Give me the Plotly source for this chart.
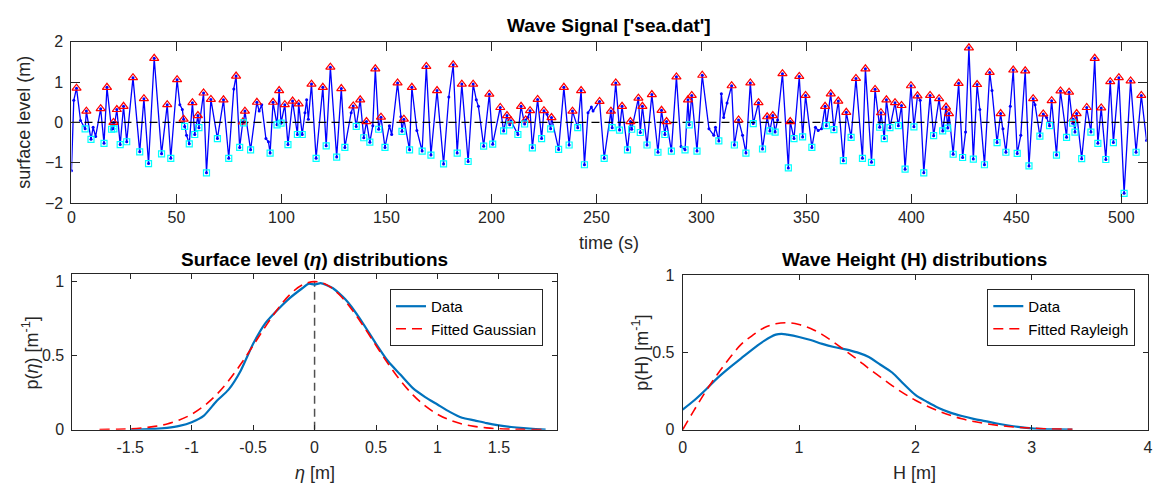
import numpy as np
import plotly.graph_objects as go

# ---------------- data: wave signal (time in s, surface level in m) ----------------
crest_t = [2.4, 7.1, 13.9, 16.9, 20.0, 21.6, 24.8, 29.3, 34.5, 39.4,
           45.6, 50.3, 53.4, 57.6, 60.2, 62.9, 66.4, 72.4, 78.4, 81.6,
           82.6, 88.3, 96.0, 98.9, 101.6, 105.3, 108.2, 114.3, 119.7, 123.3,
           128.5, 134.2, 137.5, 140.5, 144.7, 147.4, 155.3, 158.3, 162.1, 169.0,
           174.1, 181.8, 185.9, 191.3, 199.0, 204.2, 207.4, 209.3, 214.1, 216.3,
           218.4, 222.0, 225.0, 228.6, 234.5, 238.6, 242.7, 251.5, 256.9, 259.2,
           262.2, 266.2, 270.0, 271.9, 276.4, 281.0, 283.4, 288.1, 293.6, 295.4,
           300.4, 314.4, 317.7, 323.3, 327.2, 331.3, 334.0, 338.6, 342.3, 346.6,
           349.6, 358.9, 361.6, 365.2, 369.0, 373.6, 378.1, 382.7, 385.5, 388.1,
           392.2, 395.3, 399.8, 402.9, 408.9, 413.2, 416.5, 417.9, 422.5, 427.4,
           431.3, 437.3, 442.5, 448.5, 454.2, 458.0, 462.8, 466.8, 471.0, 475.1,
           477.1, 478.7, 483.5, 487.3, 490.4, 494.7, 498.8, 504.4, 509.5]
crest_eta = [0.85, 0.28, 0.34, 0.87, 0.0, 0.32, 0.40, 1.11, 0.59, 1.59,
             0.44, 1.06, 0.08, 0.49, 0.17, 0.73, 0.57, 0.56, 1.15, 0.01,
             0.28, 0.50, 0.50, 0.79, 0.44, 0.53, 0.46, 0.95, 0.87, 1.37,
             0.84, 0.41, 0.56, 0.02, 1.33, 0.13, 0.98, 0.08, 0.87, 1.39,
             0.79, 1.43, 0.95, 0.95, 0.70, 0.37, 0.17, 0.04, 0.40, 0.06,
             0.29, 0.57, 0.29, 0.12, 0.87, 0.28, 0.79, 0.52, 0.28, 0.98,
             0.40, 0.02, 0.60, 0.40, 0.69, 0.30, 0.02, 1.13, 0.56, 0.67,
             1.17, 0.91, 0.06, 0.98, 0.49, 0.14, 0.17, 1.21, 0.02, 1.14,
             0.67, 0.40, 0.71, 0.53, 0.25, 1.09, 1.33, 0.82, 0.24, 0.56,
             0.49, 0.42, 0.91, 0.66, 0.67, 0.59, 0.38, 0.22, 0.97, 1.85,
             0.94, 1.24, 0.22, 1.30, 1.28, 0.59, 0.21, 0.54, 0.78, 0.75,
             0.08, 0.22, 0.37, 1.59, 0.36, 1.01, 1.11, 1.03, 0.67]

trough_t = [6.5, 9.3, 15.5, 19.1, 20.2, 23.2, 26.3, 32.5, 36.7, 42.9,
            47.3, 53.9, 56.1, 58.7, 60.7, 64.3, 69.5, 74.9, 80.1, 81.9,
            85.3, 94.6, 97.9, 99.8, 103.1, 107.6, 109.9, 116.5, 121.3, 126.3,
            130.2, 135.6, 139.2, 142.1, 146.3, 149.3, 157.4, 161.0, 167.0, 171.2,
            177.2, 183.7, 188.9, 196.3, 200.6, 205.8, 208.7, 212.6, 215.8, 219.5,
            223.9, 228.2, 232.0, 237.0, 241.1, 244.3, 253.7, 257.5, 261.0, 264.8,
            266.8, 270.9, 274.1, 279.3, 282.6, 285.7, 292.2, 294.2, 297.9, 308.3,
            315.7, 321.2, 324.7, 329.1, 332.6, 335.1, 341.4, 344.1, 348.2, 352.6,
            359.5, 363.1, 367.6, 371.3, 376.7, 381.0, 384.9, 387.1, 389.8, 393.8,
            397.0, 401.2, 405.9, 410.6, 414.9, 417.3, 419.9, 424.4, 429.5, 434.8,
            440.8, 445.0, 450.4, 456.0, 461.2, 465.8, 469.1, 473.9, 476.8, 477.9,
            481.1, 485.5, 488.8, 492.6, 496.2, 501.3, 507.0]
trough_eta = [-0.16, -0.42, -0.52, -0.17, -0.16, -0.55, -0.48, -0.73, -1.02, -0.78,
              -0.89, -0.10, -0.53, -0.30, -0.13, -1.25, -0.40, -0.89, -0.62, -0.01,
              -0.68, -0.76, -0.06, -0.02, -0.55, -0.30, -0.30, -0.89, -0.58, -0.86,
              -0.62, -0.10, -0.38, -0.49, -0.17, -0.62, -0.22, -0.68, -0.71, -0.81,
              -1.03, -0.76, -0.97, -0.59, -0.54, -0.21, -0.06, -0.30, -0.04, -0.63,
              -0.40, -0.16, -0.67, -0.56, -0.13, -1.05, -0.89, -0.13, -0.19, -0.68,
              -0.17, -0.25, -0.56, -0.74, -0.30, -0.71, -0.68, -0.06, -0.71, -0.46,
              -0.56, -0.76, -0.03, -0.66, -0.21, -0.24, -1.13, -0.40, -0.36, -0.62,
              -0.08, -0.18, -0.95, -0.37, -0.89, -0.99, -0.12, -0.40, -0.13, -0.08,
              -1.16, -0.11, -1.25, -0.33, -0.21, -0.14, -0.79, -0.87, -0.91, -1.05,
              -0.50, -0.74, -0.77, -1.08, -0.34, -0.08, -0.81, -0.37, -0.02, -0.24,
              -0.90, -0.24, -0.52, -0.92, -0.50, -1.76, -0.74]

# other (unmarked) samples of the signal
mid_t = [0.0, 1.1, 4.3, 10.3, 11.5, 51.6, 52.8, 54.8, 77.3, 89.4,
         90.6, 92.6, 93.8, 111.2, 112.0, 112.8, 133.2, 143.5, 151.4, 152.5,
         156.9, 164.5, 179.7, 192.8, 193.8, 217.3, 226.5, 246.0, 247.6, 248.4,
         290.3, 303.6, 305.9, 306.7, 309.5, 310.6, 312.2, 319.6, 336.3, 354.3,
         355.6, 357.2, 404.2, 425.8, 432.6, 438.4, 443.6, 447.1, 452.1, 458.9,
         464.4, 512.0]
mid_eta = [-1.20, 0.55, 0.05, -0.12, -0.35, 0.44, 0.32, -0.32, 0.83, 0.28,
           0.44, -0.40, -0.48, 0.24, 0.56, 0.08, 0.24, -0.08, -0.08, -0.30,
           0.14, -0.20, 0.63, 0.56, 0.40, 0.12, 0.20, 0.24, 0.38, 0.28,
           -0.60, -0.16, -0.32, -0.12, 0.71, 0.12, 0.48, -0.32, 0.06, -0.12,
           -0.20, -0.16, 0.55, -0.24, 0.32, 0.79, -0.16, 0.40, -0.32, 0.44,
           0.12, -0.45]

# ---------------- data: surface level distribution ----------------
eta_data = [-1.5, -1.4, -1.3, -1.2, -1.1, -1.0, -0.9, -0.8, -0.7, -0.6,
            -0.5, -0.4, -0.3, -0.2, -0.1, -0.05, 0.0, 0.05, 0.1, 0.15,
            0.2, 0.25, 0.3, 0.4, 0.5, 0.6, 0.7, 0.8, 0.9, 1.0,
            1.1, 1.2, 1.3, 1.4, 1.5, 1.6, 1.7, 1.8, 1.88]
p_eta_data = [0.0, 0.002, 0.005, 0.012, 0.025, 0.05, 0.095, 0.19, 0.27, 0.40,
              0.58, 0.72, 0.81, 0.89, 0.955, 0.985, 0.98, 0.99, 0.975, 0.955,
              0.92, 0.88, 0.83, 0.71, 0.58, 0.46, 0.37, 0.28, 0.22, 0.17,
              0.12, 0.08, 0.063, 0.044, 0.029, 0.018, 0.01, 0.004, 0.0]
eta_fit = [-1.75, -1.6, -1.5, -1.4, -1.3, -1.2, -1.1, -1.0, -0.9, -0.8,
           -0.7, -0.6, -0.5, -0.4, -0.3, -0.2, -0.1, 0.0, 0.1, 0.2,
           0.3, 0.4, 0.5, 0.6, 0.7, 0.8, 0.9, 1.0, 1.1, 1.2,
           1.3, 1.4, 1.5, 1.6, 1.7, 1.85]
p_eta_fit = [0.001, 0.003, 0.006, 0.012, 0.022, 0.038, 0.065, 0.104, 0.16, 0.235,
             0.33, 0.443, 0.568, 0.696, 0.815, 0.913, 0.978, 1.0, 0.978, 0.913,
             0.815, 0.696, 0.568, 0.443, 0.33, 0.235, 0.16, 0.104, 0.065, 0.038,
             0.022, 0.012, 0.006, 0.003, 0.0015, 0.0005]

# ---------------- data: wave height distribution ----------------
h_data = [0.0, 0.1, 0.2, 0.3, 0.4, 0.5, 0.6, 0.7, 0.8, 0.85,
          0.9, 1.0, 1.1, 1.2, 1.3, 1.4, 1.5, 1.6, 1.7, 1.8,
          1.9, 2.0, 2.1, 2.2, 2.3, 2.4, 2.5, 2.6, 2.7, 2.8,
          2.9, 3.0, 3.1, 3.2, 3.35]
p_h_data = [0.13, 0.19, 0.26, 0.335, 0.40, 0.46, 0.52, 0.575, 0.615, 0.62,
            0.615, 0.60, 0.58, 0.555, 0.535, 0.52, 0.50, 0.47, 0.42, 0.37,
            0.295, 0.225, 0.18, 0.14, 0.11, 0.088, 0.07, 0.055, 0.04, 0.027,
            0.016, 0.008, 0.004, 0.002, 0.0]
h_fit = [0.0, 0.1, 0.2, 0.3, 0.4, 0.5, 0.6, 0.7, 0.8, 0.9,
         1.0, 1.1, 1.2, 1.3, 1.4, 1.5, 1.6, 1.7, 1.8, 1.9,
         2.0, 2.2, 2.4, 2.6, 2.8, 3.0, 3.2, 3.35]
p_h_fit = [0.0, 0.128, 0.25, 0.36, 0.46, 0.55, 0.61, 0.66, 0.685, 0.692,
           0.68, 0.655, 0.615, 0.565, 0.51, 0.455, 0.395, 0.34, 0.285, 0.235,
           0.19, 0.12, 0.07, 0.04, 0.02, 0.01, 0.004, 0.002]

x_ticks_top = [0, 50, 100, 150, 200, 250, 300, 350, 400, 450, 500]
y_ticks_top = [-2, -1, 0, 1, 2]
x_ticks_eta = [-1.5, -1, -0.5, 0, 0.5, 1, 1.5]
x_ticks_h = [0, 1, 2, 3, 4]
y_ticks_p = [0, 0.5, 1]

# ---------------- figure ----------------
W, H = 1160, 493
FONT = "Liberation Sans, Arial, Helvetica, sans-serif"
AX = "#262626"


def fx(p):
    return p / W


def fy(p):
    return 1 - p / H


sig_t = np.array(crest_t + trough_t + mid_t)
sig_eta = np.array(crest_eta + trough_eta + mid_eta)
order = np.argsort(sig_t, kind="stable")

fig = go.Figure()

# top panel
fig.add_trace(go.Scatter(x=sig_t[order], y=sig_eta[order], mode="lines+markers",
                         line=dict(color="#0000FF", width=1.3),
                         marker=dict(size=3, color="#0000FF"),
                         xaxis="x", yaxis="y", showlegend=False))
fig.add_trace(go.Scatter(x=[0, 512], y=[0, 0], mode="lines",
                         line=dict(color="black", width=1.2, dash="8px,5px"),
                         xaxis="x", yaxis="y", showlegend=False))
fig.add_trace(go.Scatter(x=crest_t, y=crest_eta, mode="markers",
                         marker=dict(symbol="triangle-up-open", size=8, color="#FF0000",
                                     line=dict(width=1.2)),
                         xaxis="x", yaxis="y", showlegend=False))
fig.add_trace(go.Scatter(x=trough_t, y=trough_eta, mode="markers",
                         marker=dict(symbol="square-open", size=6, color="#00FFFF",
                                     line=dict(width=1.2)),
                         xaxis="x", yaxis="y", showlegend=False))

# bottom-left panel
fig.add_trace(go.Scatter(x=[0, 0], y=[0, 1.0], mode="lines",
                         line=dict(color="#505050", width=1.5, dash="8px,5px"),
                         xaxis="x2", yaxis="y2", showlegend=False))
fig.add_trace(go.Scatter(x=eta_data, y=p_eta_data, mode="lines", name="Data",
                         line=dict(color="#0072BD", width=2.2, shape="spline", smoothing=0.6),
                         xaxis="x2", yaxis="y2", legend="legend"))
fig.add_trace(go.Scatter(x=eta_fit, y=p_eta_fit, mode="lines", name="Fitted Gaussian",
                         line=dict(color="#FF0000", width=1.6, dash="10px,6px", shape="spline"),
                         xaxis="x2", yaxis="y2", legend="legend"))

# bottom-right panel
fig.add_trace(go.Scatter(x=h_data, y=p_h_data, mode="lines", name="Data",
                         line=dict(color="#0072BD", width=2.2, shape="spline"),
                         xaxis="x3", yaxis="y3", legend="legend2"))
fig.add_trace(go.Scatter(x=h_fit, y=p_h_fit, mode="lines", name="Fitted Rayleigh",
                         line=dict(color="#FF0000", width=1.6, dash="10px,6px", shape="spline"),
                         xaxis="x3", yaxis="y3", legend="legend2"))

axis_common = dict(showline=True, linecolor=AX, linewidth=1, mirror="ticks",
                   ticks="inside", tickcolor=AX, tickwidth=1,
                   tickfont=dict(family=FONT, size=16, color=AX),
                   showgrid=False, zeroline=False, fixedrange=True)

fig.update_layout(
    width=W, height=H,
    margin=dict(l=0, r=0, t=0, b=0),
    paper_bgcolor="white", plot_bgcolor="white",
    font=dict(family=FONT, color=AX),
    xaxis=dict(domain=[fx(68), fx(1151.5)], range=[0, 512], tickvals=x_ticks_top,
               anchor="y", ticklen=9, **axis_common),
    yaxis=dict(domain=[fy(202), fy(35)], range=[-2, 2], tickvals=y_ticks_top,
               anchor="x", ticklen=9, ticklabelstandoff=4, **axis_common),
    xaxis2=dict(domain=[fx(69), fx(557)], range=[-1.97, 1.97], tickvals=x_ticks_eta,
                ticktext=["-1.5", "-1", "-0.5", "0", "0.5", "1", "1.5"],
                anchor="y2", ticklen=5, ticklabelstandoff=3, **axis_common),
    yaxis2=dict(domain=[fy(436.7), fy(276)], range=[0, 1.048], tickvals=y_ticks_p,
                ticktext=["0", "0.5", "1"],
                anchor="x2", ticklen=5, ticklabelstandoff=4, **axis_common),
    xaxis3=dict(domain=[fx(684), fx(1153)], range=[0, 4], tickvals=x_ticks_h,
                ticktext=["0", "1", "2", "3", "4"],
                anchor="y3", ticklen=5, ticklabelstandoff=3, **axis_common),
    yaxis3=dict(domain=[fy(436.7), fy(276.7)], range=[0, 1], tickvals=y_ticks_p,
                ticktext=["0", "0.5", "1"],
                anchor="x3", ticklen=5, ticklabelstandoff=4, **axis_common),
    legend=dict(x=fx(389), y=fy(291), xanchor="left", yanchor="top",
                bordercolor=AX, borderwidth=1, bgcolor="white",
                font=dict(family=FONT, size=15, color="black"),
                itemwidth=30, tracegroupgap=0),
    legend2=dict(x=fx(991), y=fy(291), xanchor="left", yanchor="top",
                 bordercolor=AX, borderwidth=1, bgcolor="white",
                 font=dict(family=FONT, size=15, color="black"),
                 itemwidth=30, tracegroupgap=0),
)

ann = [
    dict(text="<b>Wave Signal ['sea.dat']</b>", x=fx(610), y=fy(18), size=19, color="black"),
    dict(text="<b>Surface level (<i>η</i>) distributions</b>", x=fx(313), y=fy(260), size=19, color="black"),
    dict(text="<b>Wave Height (H) distributions</b>", x=fx(918), y=fy(260), size=19, color="black"),
    dict(text="time (s)", x=fx(610), y=fy(243), size=18, color=AX),
    dict(text="<i>η</i> [m]", x=fx(313), y=fy(482), size=18, color=AX),
    dict(text="H [m]", x=fx(918), y=fy(482), size=18, color=AX),
    dict(text="surface level (m)", x=fx(20), y=fy(118), size=18, color=AX, angle=-90),
    dict(text="p(<i>η</i>) [m<sup>-1</sup>]", x=fx(27), y=fy(357), size=18, color=AX, angle=-90),
    dict(text="p(H) [m<sup>-1</sup>]", x=fx(642), y=fy(357), size=18, color=AX, angle=-90),
]
for a in ann:
    fig.add_annotation(text=a["text"], x=a["x"], y=a["y"], xref="paper", yref="paper",
                       xanchor="center", yanchor="middle", showarrow=False,
                       textangle=a.get("angle", 0),
                       font=dict(family=FONT, size=a["size"], color=a["color"]))

# remove the default page margin so the figure sits at the window's top-left corner
fig.write_html("out.html",
               config={"displayModeBar": False, "staticPlot": True},
               post_script="document.body.style.margin='0';document.body.style.padding='0';"
                           "document.documentElement.style.overflow='hidden';")
